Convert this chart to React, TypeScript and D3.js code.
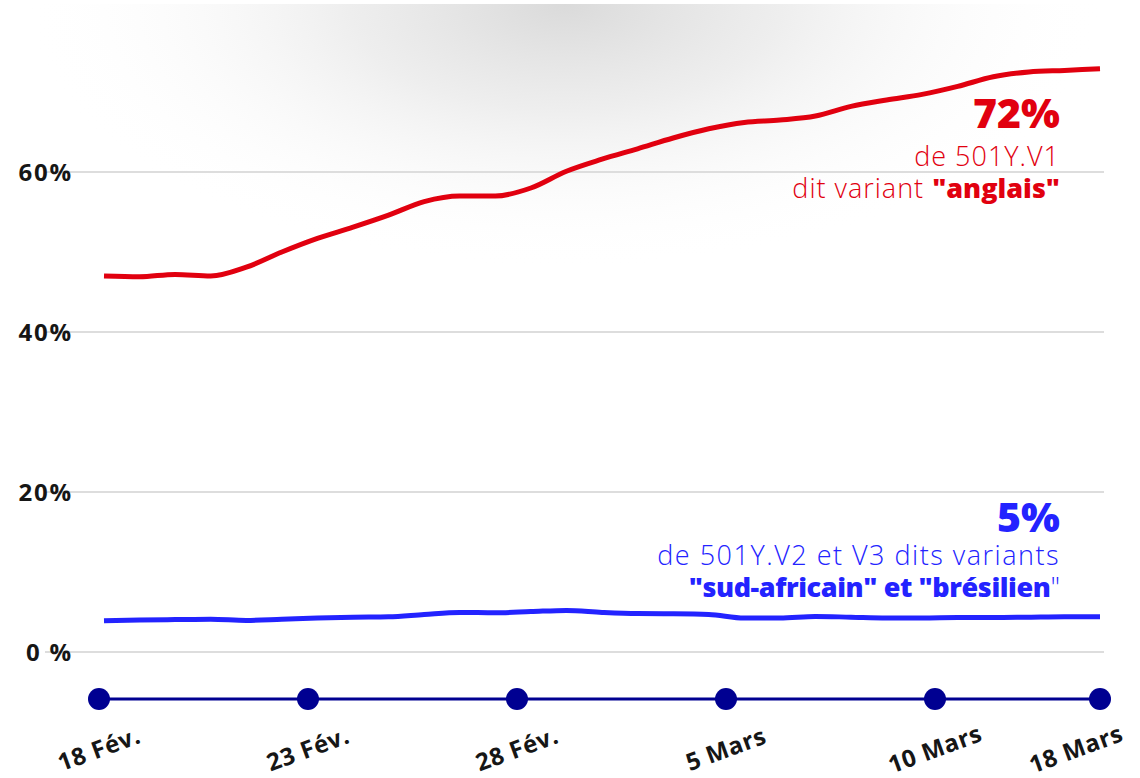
import React, { useEffect, useRef } from "react";
import * as d3 from "d3";

// share of sequenced cases, daily, 18 Feb -> 18 Mar 2021
const startDate = new Date(2021, 1, 18);
const ukVariant = [
  47.0, 46.9, 47.2, 47.0, 48.1, 50.0, 51.7, 53.1, 54.6, 56.3, 57.0, 57.0, 58.0,
  60.1, 61.6, 62.9, 64.25, 65.4, 66.2, 66.5, 67.0, 68.2, 69.0, 69.7, 70.7, 71.9,
  72.5, 72.7, 72.9,
];
const saBrVariants = [
  3.9, 4.0, 4.05, 4.1, 3.95, 4.1, 4.25, 4.35, 4.4, 4.7, 4.95, 4.9, 5.05, 5.2,
  4.95, 4.8, 4.78, 4.7, 4.25, 4.25, 4.45, 4.35, 4.25, 4.25, 4.3, 4.3, 4.35, 4.4,
  4.4,
];
const yTicks = [0, 20, 40, 60];
const yTickLabels = ["0 %", "20%", "40%", "60%"];
const dateLabels = ["18 Fév.", "23 Fév.", "28 Fév.", "5 Mars", "10 Mars", "18 Mars"];

const RED = "#e1000f";
const BLUE = "#2323ff";
const NAVY = "#000091";
const FONT = "'Open Sans', Lato, sans-serif";

export default function App() {
  const svgRef = useRef<SVGSVGElement>(null);

  useEffect(() => {
    const width = 1140;
    const height = 778;
    const svg = d3.select(svgRef.current).attr("width", width).attr("height", height);
    svg.selectAll("*").remove();

    const dates = ukVariant.map((_, i) => d3.timeDay.offset(startDate, i));

    const x = d3
      .scaleTime()
      .domain([dates[0], dates[dates.length - 1]])
      .range([104, 1100]);
    const y = d3.scaleLinear().domain([0, 60]).range([652, 172]);

    // soft grey shadow at the top
    const defs = svg.append("defs");
    const grad = defs
      .append("radialGradient")
      .attr("id", "shade")
      .attr("cx", "50%")
      .attr("cy", "50%")
      .attr("r", "50%");
    grad.append("stop").attr("offset", "0%").attr("stop-color", "#dadada");
    grad.append("stop").attr("offset", "40%").attr("stop-color", "#ebebeb").attr("stop-opacity", 0.85);
    grad.append("stop").attr("offset", "100%").attr("stop-color", "#ffffff").attr("stop-opacity", 0);
    defs
      .append("clipPath")
      .attr("id", "shadeClip")
      .append("rect")
      .attr("x", 0)
      .attr("y", 4)
      .attr("width", width)
      .attr("height", 320);
    svg
      .append("ellipse")
      .attr("cx", 565)
      .attr("cy", 4)
      .attr("rx", 540)
      .attr("ry", 265)
      .attr("fill", "url(#shade)")
      .attr("clip-path", "url(#shadeClip)");

    // gridlines + y labels
    svg
      .append("g")
      .selectAll("line")
      .data(yTicks)
      .join("line")
      .attr("x1", 45)
      .attr("x2", 1104)
      .attr("y1", (d) => y(d))
      .attr("y2", (d) => y(d))
      .attr("stroke", "#dddddd")
      .attr("stroke-width", 2);

    svg
      .append("g")
      .selectAll("text")
      .data(yTicks)
      .join("text")
      .attr("x", 73)
      .attr("y", (d) => y(d))
      .attr("dy", "0.36em")
      .attr("text-anchor", "end")
      .attr("font-family", FONT)
      .attr("font-weight", 700)
      .attr("font-size", 24)
      .attr("letter-spacing", 1.8)
      .attr("fill", "#161616")
      .text((d, i) => yTickLabels[i]);

    // lines
    const line = d3
      .line<number>()
      .x((d, i) => x(dates[i]))
      .y((d) => y(d))
      .curve(d3.curveMonotoneX);

    svg
      .append("path")
      .attr("d", line(ukVariant))
      .attr("fill", "none")
      .attr("stroke", RED)
      .attr("stroke-width", 5);

    svg
      .append("path")
      .attr("d", line(saBrVariants))
      .attr("fill", "none")
      .attr("stroke", BLUE)
      .attr("stroke-width", 5);

    // timeline with dots
    const step = d3.scaleLinear().domain([0, 4]).range([99, 935]);
    const tickX = (i: number) => (i === dateLabels.length - 1 ? 1100 : step(i));
    const lineY = 699;

    svg
      .append("line")
      .attr("x1", tickX(0))
      .attr("x2", tickX(dateLabels.length - 1))
      .attr("y1", lineY)
      .attr("y2", lineY)
      .attr("stroke", NAVY)
      .attr("stroke-width", 3);

    svg
      .append("g")
      .selectAll("circle")
      .data(dateLabels)
      .join("circle")
      .attr("cx", (d, i) => tickX(i))
      .attr("cy", lineY)
      .attr("r", 11)
      .attr("fill", NAVY);

    svg
      .append("g")
      .selectAll("text")
      .data(dateLabels)
      .join("text")
      .attr("transform", (d, i) => {
        const tx = Math.min(tickX(i), width - 64);
        return `translate(${tx},749) rotate(-20)`;
      })
      .attr("dy", "0.35em")
      .attr("text-anchor", "middle")
      .attr("font-family", FONT)
      .attr("font-weight", 700)
      .attr("font-size", 24)
      .attr("letter-spacing", 0.6)
      .attr("fill", "#161616")
      .text((d) => d);

    // annotations
    const note = svg
      .append("g")
      .attr("font-family", FONT)
      .attr("text-anchor", "end");

    note
      .append("text")
      .attr("x", 1060)
      .attr("y", 128)
      .attr("font-size", 41)
      .attr("font-weight", 800)
      .attr("fill", RED)
      .text("72%");
    note
      .append("text")
      .attr("x", 1060)
      .attr("y", 166)
      .attr("font-size", 27)
      .attr("font-weight", 300)
      .attr("letter-spacing", 1)
      .attr("fill", RED)
      .text("de 501Y.V1");
    const t2 = note
      .append("text")
      .attr("x", 1060)
      .attr("y", 198)
      .attr("font-size", 27)
      .attr("font-weight", 300)
      .attr("fill", RED);
    t2.append("tspan").attr("letter-spacing", 1).text("dit variant ");
    t2.append("tspan").attr("font-weight", 800).text('"anglais"');

    note
      .append("text")
      .attr("x", 1060)
      .attr("y", 532)
      .attr("font-size", 41)
      .attr("font-weight", 800)
      .attr("fill", BLUE)
      .text("5%");
    note
      .append("text")
      .attr("x", 1060)
      .attr("y", 565)
      .attr("font-size", 27)
      .attr("font-weight", 300)
      .attr("letter-spacing", 1.5)
      .attr("fill", BLUE)
      .text("de 501Y.V2 et V3 dits variants");
    const t3 = note
      .append("text")
      .attr("x", 1060)
      .attr("y", 597)
      .attr("font-size", 27)
      .attr("fill", BLUE);
    t3.append("tspan")
      .attr("font-weight", 800)
      .attr("letter-spacing", -0.4)
      .text('"sud-africain" et "brésilien');
    t3.append("tspan").attr("font-weight", 300).text('"');
  }, []);

  return (
    <div id="chart" style={{ position: "absolute", left: 0, top: 0 }}>
      <svg ref={svgRef} style={{ display: "block" }}></svg>
    </div>
  );
}
